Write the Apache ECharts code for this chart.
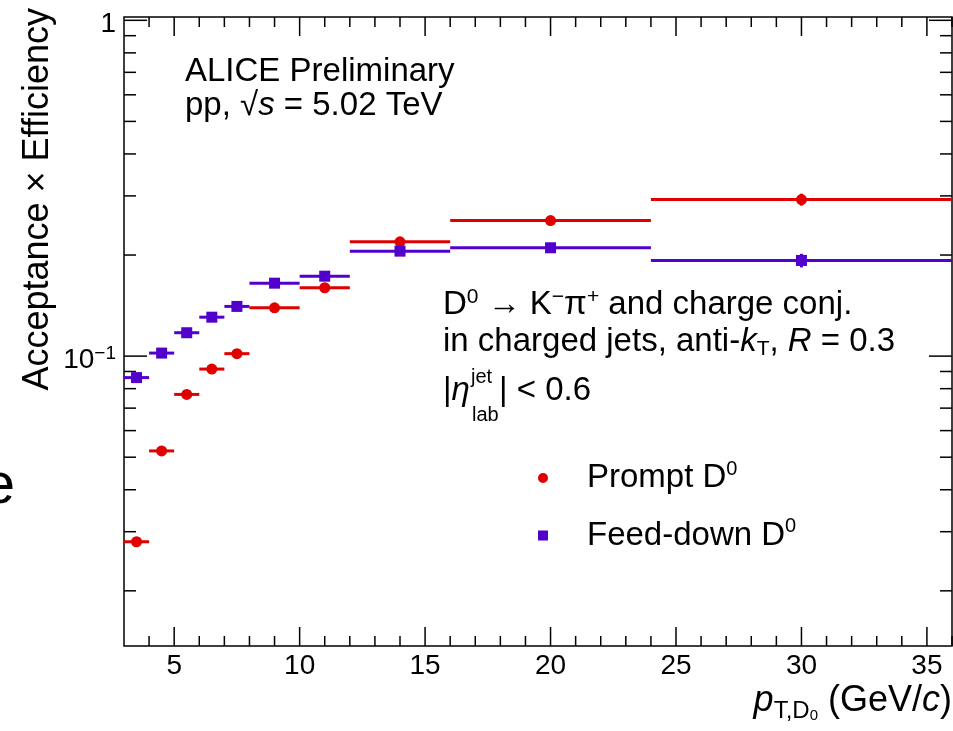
<!DOCTYPE html>
<html>
<head>
<meta charset="utf-8">
<script src="https://cdn.jsdelivr.net/npm/echarts@6/dist/echarts.min.js"></script>
<style>
html,body{margin:0;padding:0;background:#fff;}
#chart{width:953px;height:731px;}
</style>
</head>
<body>
<div id="chart"></div>
<script>
// ---- data ----
const binLow    = [3, 4, 5, 6, 7, 8, 10, 12, 16, 24];
const binHigh   = [4, 5, 6, 7, 8, 10, 12, 16, 24, 36];
const binCenter = [3.5, 4.5, 5.5, 6.5, 7.5, 9, 11, 14, 20, 30];
const promptEff = [0.0280, 0.0522, 0.0769, 0.0915, 0.1017, 0.1393, 0.1598, 0.219, 0.2534, 0.2926];
const promptErr = [0.0005, 0.0008, 0.0010, 0.0012, 0.0014, 0.0020, 0.0025, 0.0035, 0.0045, 0.0120];
const feedEff   = [0.0863, 0.1021, 0.1174, 0.1306, 0.1406, 0.1649, 0.1730, 0.2054, 0.2102, 0.1927];
const feedErr   = [0.0010, 0.0012, 0.0014, 0.0015, 0.0016, 0.0020, 0.0025, 0.0030, 0.0040, 0.0090];

const xMajorTicks = [5, 10, 15, 20, 25, 30, 35];
const xTickLabels = ['5', '10', '15', '20', '25', '30', '35'];
const xMinorTicks = [4, 6, 7, 8, 9, 11, 12, 13, 14, 16, 17, 18, 19, 21, 22, 23, 24, 26, 27, 28, 29, 31, 32, 33, 34, 36];
const yMajorTicks = [0.1, 1];
const yTickLabels = ['{b|10}{s|\u22121}', '{b|1}'];
const yMinorTicks = [0.02, 0.03, 0.04, 0.05, 0.06, 0.07, 0.08, 0.09, 0.2, 0.3, 0.4, 0.5, 0.6, 0.7, 0.8, 0.9];

const X_MIN = 3, X_MAX = 36, Y_MIN = 0.0137, Y_MAX = 1.023;
const RED = '#e00000', VIOLET = '#5200cc';
const FONT = 'Liberation Sans, Arial, Helvetica, sans-serif';

function seriesData(eff, err) {
  return binCenter.map((c, i) => [c, eff[i], binLow[i], binHigh[i], err[i]]);
}

function dataRender(shape) {
  return function (params, api) {
    const xc = api.value(0), y = api.value(1), xlo = api.value(2), xhi = api.value(3), e = api.value(4);
    const pc = api.coord([xc, y]);
    const pl = api.coord([xlo, y]);
    const ph = api.coord([xhi, y]);
    const pu = api.coord([xc, y + e]);
    const pd = api.coord([xc, y - e]);
    const color = api.visual('color');
    const marker = shape === 'circle'
      ? { type: 'circle', shape: { cx: pc[0], cy: pc[1], r: 5.5 }, style: { fill: color } }
      : { type: 'rect', shape: { x: pc[0] - 5.5, y: pc[1] - 5.5, width: 11, height: 11 }, style: { fill: color } };
    return {
      type: 'group',
      children: [
        { type: 'line', shape: { x1: pl[0], y1: pc[1], x2: ph[0], y2: pc[1] }, style: { stroke: color, lineWidth: 3 } },
        { type: 'line', shape: { x1: pc[0], y1: pu[1], x2: pc[0], y2: pd[1] }, style: { stroke: color, lineWidth: 3 } },
        marker
      ]
    };
  };
}

function xTickRender(len) {
  return function (params, api) {
    const v = api.value(0);
    const b = api.coord([v, Y_MIN]);
    const t = api.coord([v, Y_MAX]);
    return {
      type: 'group',
      children: [
        { type: 'line', shape: { x1: b[0], y1: b[1], x2: b[0], y2: b[1] - len }, style: { stroke: '#000', lineWidth: 1.5 } },
        { type: 'line', shape: { x1: t[0], y1: t[1], x2: t[0], y2: t[1] + len }, style: { stroke: '#000', lineWidth: 1.5 } }
      ]
    };
  };
}
function yTickRender(len) {
  return function (params, api) {
    const v = api.value(1);
    const l = api.coord([X_MIN, v]);
    const r = api.coord([X_MAX, v]);
    return {
      type: 'group',
      children: [
        { type: 'line', shape: { x1: l[0], y1: l[1], x2: l[0] + len, y2: l[1] }, style: { stroke: '#000', lineWidth: 1.5 } },
        { type: 'line', shape: { x1: r[0], y1: r[1], x2: r[0] - len, y2: r[1] }, style: { stroke: '#000', lineWidth: 1.5 } }
      ]
    };
  };
}

const chart = echarts.init(document.getElementById('chart'));
const option = {
  backgroundColor: '#fff',
  animation: false,
  grid: { left: 124, right: 1, top: 17, bottom: 85, show: true, borderColor: '#000', borderWidth: 1.5, backgroundColor: 'transparent' },
  xAxis: { type: 'value', min: X_MIN, max: X_MAX, axisLine: { show: false }, axisTick: { show: false }, axisLabel: { show: false }, splitLine: { show: false } },
  yAxis: { type: 'log', logBase: 10, min: Y_MIN, max: Y_MAX, axisLine: { show: false }, axisTick: { show: false }, axisLabel: { show: false }, splitLine: { show: false } },
  legend: {
    orient: 'vertical', left: 538, top: 459, padding: 0, itemGap: 22,
    itemWidth: 10, itemHeight: 10,
    data: [{ name: 'Prompt', icon: 'circle' }, { name: 'Feed-down', icon: 'rect' }],
    formatter: function (name) { return '{g|}{a|' + name + ' D}{s|0}'; },
    textStyle: {
      rich: {
        g: { width: 34, lineHeight: 38 },
        a: { fontSize: 33, fontFamily: FONT, color: '#000', lineHeight: 38 },
        s: { fontSize: 20, fontFamily: FONT, color: '#000', lineHeight: 24, verticalAlign: 'top' }
      }
    }
  },
  series: [
    { name: 'xMajor', type: 'custom', silent: true, data: xMajorTicks.map(v => [v, Y_MIN]), renderItem: xTickRender(19), z: 5 },
    { name: 'xMinor', type: 'custom', silent: true, data: xMinorTicks.map(v => [v, Y_MIN]), renderItem: xTickRender(10), z: 5 },
    { name: 'yMajor', type: 'custom', silent: true, data: yMajorTicks.map(v => [X_MIN, v]), renderItem: yTickRender(23), z: 5 },
    { name: 'yMinor', type: 'custom', silent: true, data: yMinorTicks.map(v => [X_MIN, v]), renderItem: yTickRender(12), z: 5 },
    {
      name: 'xLabels', type: 'custom', silent: true,
      data: xMajorTicks.map(v => [v, Y_MIN]),
      renderItem: function (params, api) {
        const p = api.coord([api.value(0), Y_MIN]);
        return { type: 'text', x: p[0], y: p[1] + 20, style: { text: xTickLabels[params.dataIndex], fontSize: 28, fontFamily: FONT, fill: '#000', align: 'center', verticalAlign: 'middle' } };
      }
    },
    {
      name: 'yLabels', type: 'custom', silent: true,
      data: yMajorTicks.map(v => [X_MIN, v]),
      renderItem: function (params, api) {
        const p = api.coord([X_MIN, api.value(1)]);
        return {
          type: 'text', x: p[0] - 8, y: p[1] + 4,
          style: {
            text: yTickLabels[params.dataIndex], align: 'right', verticalAlign: 'middle',
            rich: {
              b: { fontSize: 28, fontFamily: FONT, fill: '#000', lineHeight: 32 },
              s: { fontSize: 19, fontFamily: FONT, fill: '#000', lineHeight: 20, verticalAlign: 'top' }
            }
          }
        };
      }
    },
    { name: 'Prompt', type: 'custom', itemStyle: { color: RED }, data: seriesData(promptEff, promptErr), renderItem: dataRender('circle'), z: 10 },
    { name: 'Feed-down', type: 'custom', itemStyle: { color: VIOLET }, data: seriesData(feedEff, feedErr), renderItem: dataRender('rect'), z: 10 }
  ],
  graphic: [
    { type: 'text', x: 38, y: 8, rotation: Math.PI / 2,
      style: { text: 'Acceptance \u00d7 Efficiency', fontSize: 36, fontFamily: FONT, fill: '#000', align: 'right', verticalAlign: 'middle' } },
    { type: 'text', x: 15, y: 487,
      style: { text: 'e', fontSize: 58, fontFamily: FONT, fill: '#000', align: 'right', verticalAlign: 'middle' } },
    { type: 'text', x: 952, y: 701,
      style: {
        text: '{p|p}{sub|T,D}{sup|0}{m| (GeV/}{i|c}{m|)}', align: 'right', verticalAlign: 'middle',
        rich: {
          p: { fontSize: 36, fontStyle: 'italic', fontFamily: FONT, fill: '#000', lineHeight: 44 },
          sub: { fontSize: 24, fontFamily: FONT, fill: '#000', lineHeight: 2, verticalAlign: 'bottom' },
          sup: { fontSize: 15, fontFamily: FONT, fill: '#000', lineHeight: 16, verticalAlign: 'bottom' },
          m: { fontSize: 36, fontFamily: FONT, fill: '#000', lineHeight: 44 },
          i: { fontSize: 36, fontStyle: 'italic', fontFamily: FONT, fill: '#000', lineHeight: 44 }
        }
      } },
    { type: 'text', x: 185, y: 72,
      style: { text: 'ALICE Preliminary', fontSize: 33, fontFamily: FONT, fill: '#000', align: 'left', verticalAlign: 'middle' } },
    { type: 'text', x: 185, y: 106,
      style: {
        text: '{t|pp, \u221a}{i|s}{t| = 5.02 TeV}', align: 'left', verticalAlign: 'middle',
        rich: {
          t: { fontSize: 33, fontFamily: FONT, fill: '#000', lineHeight: 36 },
          i: { fontSize: 33, fontStyle: 'italic', fontFamily: FONT, fill: '#000', lineHeight: 36 }
        }
      } },
    { type: 'text', x: 443, y: 305,
      style: {
        text: '{t|D}{sup|0}{t| \u2192 K}{sup|\u2212}{t|\u03c0}{sup|+}{t| and charge conj.}', align: 'left', verticalAlign: 'middle',
        rich: {
          t: { fontSize: 33, fontFamily: FONT, fill: '#000', lineHeight: 36 },
          sup: { fontSize: 21, fontFamily: FONT, fill: '#000', lineHeight: 16, verticalAlign: 'top' }
        }
      } },
    { type: 'text', x: 443, y: 342,
      style: {
        text: '{t|in charged jets, anti-}{i|k}{sub|T}{t|, }{i|R}{t| = 0.3}', align: 'left', verticalAlign: 'middle',
        rich: {
          t: { fontSize: 33, fontFamily: FONT, fill: '#000', lineHeight: 36 },
          i: { fontSize: 33, fontStyle: 'italic', fontFamily: FONT, fill: '#000', lineHeight: 36 },
          sub: { fontSize: 21, fontFamily: FONT, fill: '#000', lineHeight: 18, verticalAlign: 'bottom' }
        }
      } },
    { type: 'text', x: 443, y: 391,
      style: {
        text: '{t||}{i|\u03b7}', align: 'left', verticalAlign: 'middle',
        rich: {
          t: { fontSize: 33, fontFamily: FONT, fill: '#000', lineHeight: 36 },
          i: { fontSize: 33, fontStyle: 'italic', fontFamily: FONT, fill: '#000', lineHeight: 36 }
        }
      } },
    { type: 'text', x: 471, y: 377,
      style: { text: 'jet', fontSize: 20, fontFamily: FONT, fill: '#000', align: 'left', verticalAlign: 'middle' } },
    { type: 'text', x: 472, y: 415,
      style: { text: 'lab', fontSize: 20, fontFamily: FONT, fill: '#000', align: 'left', verticalAlign: 'middle' } },
    { type: 'text', x: 499, y: 391,
      style: { text: '| < 0.6', fontSize: 33, fontFamily: FONT, fill: '#000', align: 'left', verticalAlign: 'middle' } }
  ]
};
chart.setOption(option);
</script>
</body>
</html>
